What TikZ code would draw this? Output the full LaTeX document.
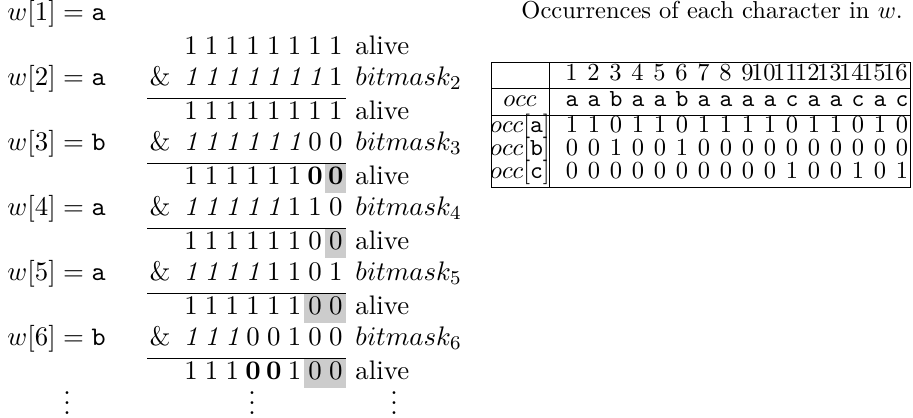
\documentclass[tikz,border=0pt]{standalone}
\begin{document}
\begin{tikzpicture}[x=0.40816pt,y=-0.40816pt,
  lf/.style={font=\fontsize{10.95}{13}\selectfont},
  txt/.style={inner sep=0pt,anchor=base},
  txtw/.style={inner sep=0pt,anchor=base west},
  txte/.style={inner sep=0pt,anchor=base east},
  ltxt/.style={txt,lf},
  ltxtw/.style={txtw,lf},
  rulel/.style={line width=0.4pt},
  tabl/.style={line width=0.4pt},
  hl/.style={fill=black!20}]
\useasboundingbox (0,0) rectangle (913,417);
\newcommand\bitrow[3]{%
  \foreach \s [count=\j] in {#3}{\node[ltxt] (#1-\j) at ({191+20.7*(\j-1)},#2) {\s};}}
% ---------- left block ----------
% gray highlights
\fill[hl] (325,163) rectangle (346,193);
\fill[hl] (325,228) rectangle (346,258);
\fill[hl] (304,293) rectangle (346,323);
\fill[hl] (304,358) rectangle (346,388);
% w labels
\node[ltxtw] (w1) at (7,20) {$w[1] = \texttt{a}$};
\node[ltxtw] (w2) at (7,85) {$w[2] = \texttt{a}$};
\node[ltxtw] (w3) at (7,150) {$w[3] = \texttt{b}$};
\node[ltxtw] (w4) at (7,215) {$w[4] = \texttt{a}$};
\node[ltxtw] (w5) at (7,280) {$w[5] = \texttt{a}$};
\node[ltxtw] (w6) at (7,345) {$w[6] = \texttt{b}$};
% alive 1
\bitrow{al1}{54}{1,1,1,1,1,1,1,1}
\node[ltxtw] (la1) at (355,54) {alive};
% bitmask rows and results
\foreach \k/\y in {2/85,3/150,4/215,5/280,6/345}{
  \node[ltxt] (amp\k) at (160,\y) {\&};
  \draw[rulel] (147,\y+13) -- (346,\y+13);
  \node[ltxtw] (lb\k) at (355,\y) {$bitmask_\k$};
  \node[ltxtw] (la\k) at (355,\y+34) {alive};
}
\bitrow{bm2}{85}{\textit{1},\textit{1},\textit{1},\textit{1},\textit{1},\textit{1},\textit{1},1}
\bitrow{al2}{119}{1,1,1,1,1,1,1,1}
\bitrow{bm3}{150}{\textit{1},\textit{1},\textit{1},\textit{1},\textit{1},\textit{1},0,0}
\bitrow{al3}{184}{1,1,1,1,1,1,\textbf{0},\textbf{0}}
\bitrow{bm4}{215}{\textit{1},\textit{1},\textit{1},\textit{1},\textit{1},1,1,0}
\bitrow{al4}{249}{1,1,1,1,1,1,0,0}
\bitrow{bm5}{280}{\textit{1},\textit{1},\textit{1},\textit{1},1,1,0,1}
\bitrow{al5}{314}{1,1,1,1,1,1,0,0}
\bitrow{bm6}{345}{\textit{1},\textit{1},\textit{1},0,0,1,0,0}
\bitrow{al6}{379}{1,1,1,\textbf{0},\textbf{0},1,0,0}
% dots
\node[ltxt] (dw) at (67,414) {\smash{$\vdots$}};
\node[ltxt] (dd) at (252,414) {\smash{$\vdots$}};
\node[ltxt] (da) at (394,414) {\smash{$\vdots$}};
% ---------- right block ----------
\node[txtw] (title) at (521,18) {Occurrences of each character in $w$.};
\draw[tabl] (491,62) rectangle (910,187);
\draw[tabl] (549,62) -- (549,187);
\draw[tabl] (491,88) -- (910,88);
\draw[tabl] (491,115) -- (910,115);
\node[txt] (hocc) at (520,106) {$occ$};
\node[txt] (hoa) at (520,132) {$occ[\texttt{a}]$};
\node[txt] (hob) at (520,155) {$occ[\texttt{b}]$};
\node[txt] (hoc) at (520,178) {$occ[\texttt{c}]$};
\foreach \j in {1,...,16}{
  \node[txte] (n\j) at ({572+22*(\j-1)+6.1},80) {\j};
}
\foreach \s [count=\j] in {a,a,b,a,a,b,a,a,a,a,c,a,a,c,a,c}{
  \node[txt] (c\j) at ({572+22*(\j-1)},106) {\texttt{\s}};
}
\foreach \s [count=\j] in {1,1,0,1,1,0,1,1,1,1,0,1,1,0,1,0}{
  \node[txt] (ra\j) at ({572+22*(\j-1)},132) {\s};
}
\foreach \s [count=\j] in {0,0,1,0,0,1,0,0,0,0,0,0,0,0,0,0}{
  \node[txt] (rb\j) at ({572+22*(\j-1)},155) {\s};
}
\foreach \s [count=\j] in {0,0,0,0,0,0,0,0,0,0,1,0,0,1,0,1}{
  \node[txt] (rc\j) at ({572+22*(\j-1)},178) {\s};
}
\end{tikzpicture}
\end{document}
